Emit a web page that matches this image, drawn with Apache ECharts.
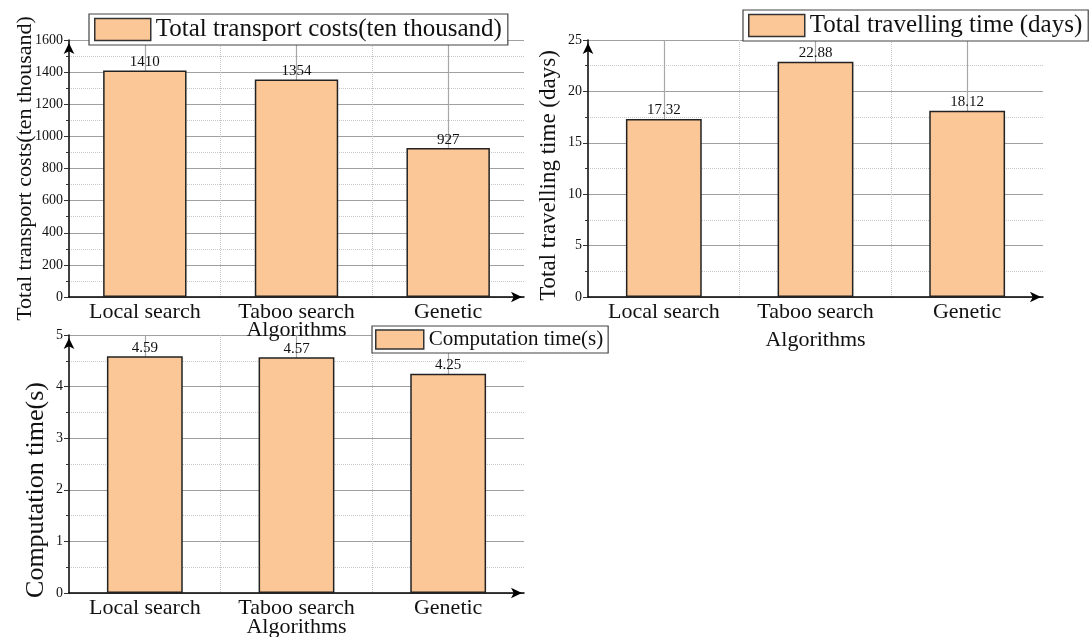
<!DOCTYPE html>
<html>
<head>
<meta charset="utf-8">
<script src="https://cdn.jsdelivr.net/npm/echarts@6/dist/echarts.min.js"></script>
<style>
html,body{margin:0;padding:0;background:#fff;}
#chart{width:1092px;height:637px;}
</style>
</head>
<body>
<div id="chart"></div>
<script>
// ---- data ----
const categories = ['Local search', 'Taboo search', 'Genetic'];
const costValues = [1410, 1354, 927];
const travelValues = [17.32, 22.88, 18.12];
const computeValues = [4.59, 4.57, 4.25];
const seriesNames = ['Total transport costs(ten thousand)', 'Total travelling time (days)', 'Computation time(s)'];
const yAxisNames = ['Total transport costs(ten thousand)', 'Total travelling time (days)', 'Computation time(s)'];
const xAxisName = 'Algorithms';
const yMax = [1600, 25, 5];
const yInterval = [200, 5, 1];

// ---- styles ----
const FONT = '"Liberation Serif", "Times New Roman", serif';
const BAR_COLOR = '#FBC796';
const grids = [
  {left: 69, top: 40, width: 455, height: 257},
  {left: 588, top: 40, width: 455, height: 257},
  {left: 69, top: 335, width: 455, height: 258}
];
const barWidths = ['55%', '50%', '50%'];
const xNameGaps = [22, 32, 23];
const yNameCfg = [
  {size: 22, gap: 33, pad: [0, 0, 0, 0]},
  {size: 23, gap: 28, pad: [0, 14, 0, 0]},
  {size: 26, gap: 20, pad: [0, 52, 0, 0]}
];
const legendCfg = [
  {left: 89, top: 14, w: 56, h: 22, fs: 25, lh: 23, pad: [3, 6, 3, 5]},
  {left: 743, top: 10, w: 56, h: 22, fs: 25, lh: 23, pad: [3, 6, 3, 5]},
  {left: 372, top: 326, w: 48, h: 19, fs: 21, lh: 19, pad: [3, 5, 3, 3]}
];
const dataSets = [costValues, travelValues, computeValues];

const chart = echarts.init(document.getElementById('chart'), null, {renderer: 'canvas'});

const option = {
  animation: false,
  backgroundColor: '#fff',
  grid: grids.map(g => Object.assign({containLabel: false, outerBoundsMode: 'none'}, g)),
  legend: legendCfg.map((l, i) => ({
    data: [seriesNames[i]],
    left: l.left, top: l.top,
    orient: 'horizontal',
    padding: l.pad,
    itemWidth: l.w, itemHeight: l.h,
    borderColor: '#444', borderWidth: 1.2,
    backgroundColor: '#fff',
    selectedMode: false,
    icon: 'rect',
    itemStyle: {color: BAR_COLOR, borderColor: '#333', borderWidth: 1.5},
    textStyle: {fontFamily: FONT, fontSize: l.fs, lineHeight: l.lh, color: '#111'}
  })),
  xAxis: grids.map((g, i) => ({
    type: 'category',
    gridIndex: i,
    data: categories,
    name: xAxisName,
    nameLocation: 'middle',
    nameGap: xNameGaps[i],
    nameMoveOverlap: false,
    nameTextStyle: {fontFamily: FONT, fontSize: 22, color: '#111'},
    axisLine: {show: true, lineStyle: {color: '#000', width: 1.5}, symbol: ['none', 'arrow'], symbolSize: [8, 11], symbolOffset: [0, -2]},
    axisTick: {show: true, alignWithLabel: true, inside: true, length: 4, lineStyle: {color: '#444'}},
    axisLabel: {fontFamily: FONT, fontSize: 22, color: '#111', margin: 4, interval: 0},
    splitLine: {show: true, showMinLine: false, showMaxLine: false, lineStyle: {color: '#c8c8c8', type: 'dotted', width: 1}}
  })),
  yAxis: grids.map((g, i) => ({
    type: 'value',
    gridIndex: i,
    min: 0, max: yMax[i], interval: yInterval[i],
    name: yAxisNames[i],
    nameLocation: 'middle',
    nameGap: yNameCfg[i].gap,
    nameMoveOverlap: false,
    nameRotate: 90,
    nameTextStyle: {fontFamily: FONT, fontSize: yNameCfg[i].size, color: '#111', padding: yNameCfg[i].pad},
    axisLine: {show: true, lineStyle: {color: '#000', width: 1.5}, symbol: ['none', 'arrow'], symbolSize: [8, 11], symbolOffset: [0, -3]},
    axisTick: {show: true, length: 5, lineStyle: {color: '#333'}},
    minorTick: {show: true, splitNumber: 2, length: 3, lineStyle: {color: '#333'}},
    axisLabel: {fontFamily: FONT, fontSize: 14, color: '#111', margin: 6, formatter: v => String(v)},
    splitLine: {show: true, lineStyle: {color: '#a0a0a0', width: 1.2, type: 'solid'}},
    minorSplitLine: {show: true, lineStyle: {color: '#c8c8c8', width: 1, type: 'dotted'}}
  })),
  series: dataSets.map((vals, i) => ({
    type: 'bar',
    name: seriesNames[i],
    xAxisIndex: i, yAxisIndex: i,
    data: vals,
    barWidth: barWidths[i],
    z: 2,
    itemStyle: {color: BAR_COLOR, borderColor: '#222', borderWidth: 1.5},
    label: {show: true, position: 'top', distance: 1, fontFamily: FONT, fontSize: 15, color: '#111'},
    markLine: {
      silent: true, symbol: 'none', z: 1, animation: false,
      label: {show: false},
      lineStyle: {color: '#a8a8a8', type: 'solid', width: 1.2},
      emphasis: {disabled: true},
      data: categories.map(c => ({xAxis: c}))
    }
  }))
};
chart.setOption(option);
</script>
</body>
</html>
